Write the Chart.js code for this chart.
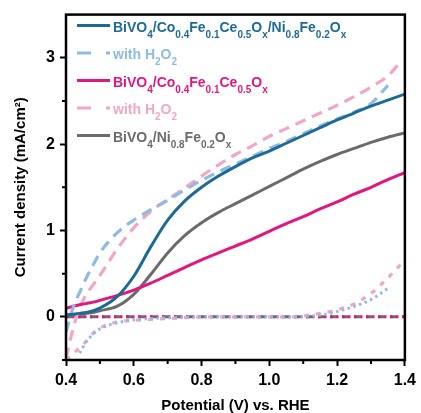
<!DOCTYPE html>
<html>
<head>
<meta charset="utf-8">
<script src="https://cdn.jsdelivr.net/npm/chart.js@4/dist/chart.umd.min.js"></script>
<style>
  body { margin: 0; background: #fff; }
  #wrap { width: 421px; height: 413px; }
</style>
</head>
<body>
<div id="wrap"><canvas id="myChart" width="421" height="413"></canvas></div>
<script>
// potentials (V vs. RHE)
var potential = [0.40, 0.42, 0.44, 0.46, 0.48, 0.50, 0.55, 0.60, 0.65, 0.70, 0.75, 0.80,
                 0.85, 0.90, 0.95, 1.00, 1.05, 1.10, 1.15, 1.20, 1.25, 1.30, 1.35, 1.40];
var potentialH2O2 = [0.40, 0.42, 0.44, 0.46, 0.48, 0.50, 0.55, 0.60, 0.65, 0.70, 0.75, 0.80,
                     0.85, 0.90, 0.95, 1.00, 1.05, 1.10, 1.15, 1.20, 1.25, 1.30, 1.35, 1.38];

// light current (mA/cm2)
var bvCfcNf = [0.02, 0.03, 0.04, 0.05, 0.07, 0.10, 0.23, 0.47, 0.81, 1.12, 1.34, 1.50,
               1.63, 1.74, 1.84, 1.92, 2.01, 2.10, 2.19, 2.28, 2.36, 2.44, 2.51, 2.58];
var bvCfcNfH2O2 = [-0.18, 0.10, 0.28, 0.45, 0.60, 0.74, 0.97, 1.12, 1.24, 1.35, 1.47, 1.58,
                   1.68, 1.77, 1.86, 1.95, 2.03, 2.12, 2.21, 2.29, 2.37, 2.47, 2.68, null];
var bvCfc = [0.10, 0.12, 0.14, 0.155, 0.17, 0.19, 0.245, 0.31, 0.39, 0.48, 0.57, 0.66,
             0.74, 0.82, 0.90, 0.99, 1.08, 1.16, 1.25, 1.33, 1.42, 1.50, 1.59, 1.67];
var bvCfcH2O2 = [-0.48, -0.15, 0.10, 0.26, 0.37, 0.48, 0.78, 1.03, 1.22, 1.36, 1.49, 1.63,
                 1.76, 1.88, 1.98, 2.09, 2.18, 2.27, 2.36, 2.45, 2.55, 2.66, 2.79, 2.92];
var bvNf = [0.02, 0.02, 0.03, 0.04, 0.05, 0.07, 0.12, 0.26, 0.49, 0.74, 0.94, 1.09,
            1.21, 1.31, 1.41, 1.51, 1.61, 1.71, 1.80, 1.88, 1.95, 2.02, 2.08, 2.13];

// dark current (dotted)
var darkZero = [0, 0, 0, 0, 0, 0, 0, 0, 0, 0, 0, 0, 0, 0, 0, 0, 0, 0, 0, 0, 0, 0, 0, 0];
var darkCfcNfH2O2 = [null, null, -0.42, -0.29, -0.20, -0.14, -0.07, -0.035, -0.02, -0.01, -0.005, 0,
                     0, 0, 0, 0, 0, 0.005, 0.02, 0.06, 0.12, 0.20, 0.33, null];
var darkCfcH2O2 = [-0.50, -0.43, -0.36, -0.28, -0.19, -0.13, -0.06, -0.04, -0.03, -0.02, -0.01, 0,
                   0, 0, 0, 0, 0, 0.01, 0.04, 0.08, 0.15, 0.27, 0.45, 0.66];

var xTicks = [0.4, 0.6, 0.8, 1.0, 1.2, 1.4];
var xMinor = [0.5, 0.7, 0.9, 1.1, 1.3];
var yTicks = [0, 1, 2, 3];
var yMinor = [-0.5, 0.5, 1.5, 2.5];

// legend text, {..} = subscript
var seriesLabels = [
  'BiVO{4}/Co{0.4}Fe{0.1}Ce{0.5}O{x}/Ni{0.8}Fe{0.2}O{x}',
  'with H{2}O{2}',
  'BiVO{4}/Co{0.4}Fe{0.1}Ce{0.5}O{x}',
  'with H{2}O{2}',
  'BiVO{4}/Ni{0.8}Fe{0.2}O{x}'
];

var DARKBLUE = '#1c6b97', LIGHTBLUE = '#8fbbe3', MAGENTA = '#e3157f', PINK = '#f2a6c5', GRAY = '#6b6b6b';
var FONT = "'Liberation Sans', Arial, sans-serif";

function pts(xs, ys) {
  return xs.map(function (x, i) { return { x: x, y: ys[i] }; });
}

function line(data, color, dash, width) {
  return {
    data: data,
    borderColor: color,
    borderWidth: width || 3,
    borderDash: dash || [],
    pointRadius: 0,
    fill: false,
    cubicInterpolationMode: 'monotone'
  };
}

var legendRows = [
  { color: DARKBLUE, dash: [] },
  { color: LIGHTBLUE, dash: [14, 15] },
  { color: MAGENTA, dash: [] },
  { color: PINK, dash: [14, 15] },
  { color: GRAY, dash: [] }
];

function drawRich(ctx, str, x, y, color) {
  var parts = str.split(/(\{[^}]*\})/);
  ctx.fillStyle = color;
  parts.forEach(function (p) {
    if (!p) return;
    if (p[0] === '{') {
      var s = p.slice(1, -1);
      ctx.font = 'bold 10px ' + FONT;
      ctx.fillText(s, x, y + 6);
      x += ctx.measureText(s).width;
    } else {
      ctx.font = 'bold 14px ' + FONT;
      ctx.fillText(p, x, y);
      x += ctx.measureText(p).width;
    }
  });
}

var framePlugin = {
  id: 'frame',
  afterDatasetsDraw: function (chart) {
    var ctx = chart.ctx, a = chart.chartArea, x = chart.scales.x, y = chart.scales.y;
    ctx.save();
    ctx.strokeStyle = '#000';
    ctx.lineWidth = 2.5;
    ctx.strokeRect(a.left, a.top, a.right - a.left, a.bottom - a.top);

    // minor ticks
    ctx.lineWidth = 2;
    ctx.beginPath();
    xMinor.forEach(function (v) {
      var px = x.getPixelForValue(v);
      ctx.moveTo(px, a.bottom); ctx.lineTo(px, a.bottom + 4);
    });
    yMinor.forEach(function (v) {
      var py = y.getPixelForValue(v);
      ctx.moveTo(a.left, py); ctx.lineTo(a.left - 4, py);
    });
    ctx.stroke();

    // legend
    ctx.textBaseline = 'alphabetic';
    ctx.textAlign = 'left';
    legendRows.forEach(function (r, i) {
      var ry = a.top + 11 + i * 27.5;
      ctx.beginPath();
      ctx.strokeStyle = r.color;
      ctx.lineWidth = 3;
      ctx.setLineDash(r.dash);
      ctx.moveTo(a.left + 11, ry);
      ctx.lineTo(a.left + 44, ry);
      ctx.stroke();
      ctx.setLineDash([]);
      drawRich(ctx, seriesLabels[i], a.left + 47, ry + 6, r.color);
    });
    ctx.restore();
  }
};

var ctx = document.getElementById('myChart').getContext('2d');

var myChart = new Chart(ctx, {
  type: 'line',
  data: {
    datasets: [
      line(pts(potential, bvCfcNf), DARKBLUE),
      line(pts(potentialH2O2, bvCfcNfH2O2), LIGHTBLUE, [11, 7], 3.2),
      line(pts(potential, bvCfc), MAGENTA),
      line(pts(potentialH2O2, bvCfcH2O2), PINK, [11, 7], 3.2),
      line(pts(potential, bvNf), GRAY),
      line(pts(potential, darkCfcNfH2O2), LIGHTBLUE, [2.5, 3.5], 3),
      line(pts(potential, darkCfcH2O2), PINK, [5, 7], 3.2),
      line(pts(potential, darkZero), MAGENTA, [2.5, 3.5], 3),
      line(pts(potential, darkZero), GRAY, [6, 6], 3)
    ]
  },
  options: {
    responsive: false,
    animation: false,
    layout: { padding: { top: 14, right: 10, left: 0, bottom: 0 } },
    scales: {
      x: {
        type: 'linear',
        min: 0.4,
        max: 1.4,
        afterBuildTicks: function (s) { s.ticks = xTicks.map(function (v) { return { value: v }; }); },
        afterFit: function (s) { s.height = 53; },
        border: { display: false },
        grid: { drawOnChartArea: false, tickLength: 6, tickWidth: 2, tickColor: '#000' },
        ticks: {
          color: '#000',
          padding: 5,
          maxRotation: 0,
          font: { family: FONT, size: 16, weight: 'bold' },
          callback: function (v) { return v.toFixed(1); }
        },
        title: {
          display: true,
          text: 'Potential (V) vs. RHE',
          color: '#000',
          padding: { top: 0, bottom: -2 },
          font: { family: FONT, size: 15, weight: 'bold' }
        }
      },
      y: {
        min: -0.5,
        max: 3.5,
        afterBuildTicks: function (s) { s.ticks = yTicks.map(function (v) { return { value: v }; }); },
        afterFit: function (s) { s.width = 66; },
        border: { display: false },
        grid: { drawOnChartArea: false, tickLength: 6, tickWidth: 2, tickColor: '#000' },
        ticks: {
          color: '#000',
          padding: 5,
          font: { family: FONT, size: 16, weight: 'bold' },
          callback: function (v) { return String(v); }
        },
        title: {
          display: true,
          text: 'Current density (mA/cm²)',
          color: '#000',
          padding: { top: 12, bottom: 0 },
          font: { family: FONT, size: 15, weight: 'bold' }
        }
      }
    },
    plugins: {
      legend: { display: false },
      tooltip: { enabled: false }
    }
  },
  plugins: [framePlugin]
});
</script>
</body>
</html>
